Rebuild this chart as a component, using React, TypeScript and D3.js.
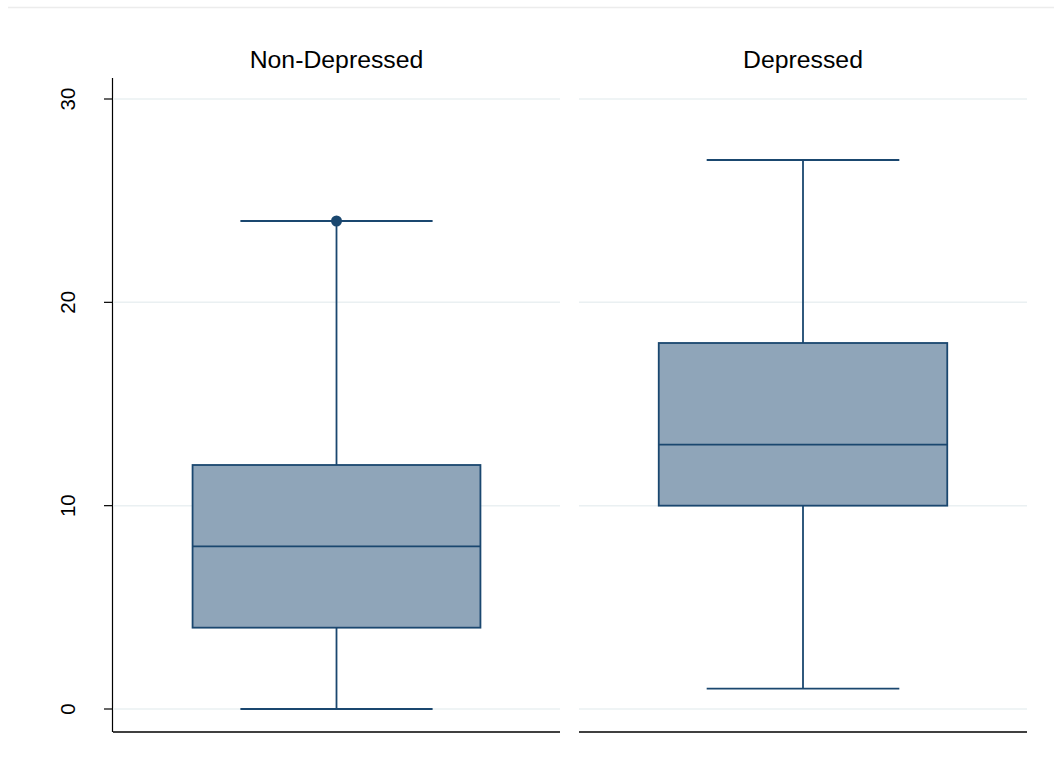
import React from "react";
import * as d3 from "d3";

const groups = ["Non-Depressed", "Depressed"];
const lowerWhisker = [0, 1];
const q1 = [4, 10];
const median = [8, 13];
const q3 = [12, 18];
const upperWhisker = [24, 27];
// outside values shown as dots, per group
const outliers = [[24], []];
const yTicks = [0, 10, 20, 30];

const W = 1054;
const H = 772;
const panels = [
  { x0: 113, x1: 560 },
  { x0: 579, x1: 1027 },
];
const top = 78;
const bottom = 732;

const NAVY = "#1a476f";
const FILL = "#8fa5b9";
const GRID = "#eaf0f2";
const FONT = "Arial, 'Liberation Sans', Helvetica, sans-serif";

export default function App() {
  const y = d3.scaleLinear().domain([0, 30]).range([709, 99]);

  return (
    <svg width={W} height={H} style={{ position: "absolute", left: 0, top: 0, background: "#fff" }}>
      <rect x={0} y={0} width={W} height={H} fill="#fff" />
      <line x1={8} x2={W} y1={7.5} y2={7.5} stroke="#ececec" strokeWidth={1.5} />

      {/* y axis */}
      <line x1={112.5} x2={112.5} y1={top} y2={bottom} stroke="#000" strokeWidth={1.2} />
      {yTicks.map((t) => (
        <g key={t}>
          <line x1={104} x2={112.5} y1={y(t)} y2={y(t)} stroke="#000" strokeWidth={1.2} />
          <text
            transform={`translate(75,${y(t)}) rotate(-90)`}
            textAnchor="middle"
            fontFamily={FONT}
            fontSize={20.5}
            fill="#000"
          >
            {t}
          </text>
        </g>
      ))}

      {panels.map((p, i) => {
        const x = d3.scaleBand().domain([groups[i]]).range([p.x0, p.x1]).paddingInner(0).paddingOuter(0);
        const cx = (x(groups[i]) as number) + x.bandwidth() / 2;
        const bw = x.bandwidth() * 0.644;
        const cw = x.bandwidth() * 0.43;
        return (
          <g key={groups[i]}>
            {yTicks.map((t) => (
              <line key={t} x1={p.x0} x2={p.x1} y1={y(t)} y2={y(t)} stroke={GRID} strokeWidth={1.5} />
            ))}
            <line x1={p.x0} x2={p.x1} y1={bottom} y2={bottom} stroke="#000" strokeWidth={1.5} />
            <text x={(p.x0 + p.x1) / 2} y={68} textAnchor="middle" fontFamily={FONT} fontSize={24.8} fill="#000">
              {groups[i]}
            </text>

            {/* whiskers */}
            <line x1={cx} x2={cx} y1={y(q3[i])} y2={y(upperWhisker[i])} stroke={NAVY} strokeWidth={1.8} />
            <line x1={cx} x2={cx} y1={y(q1[i])} y2={y(lowerWhisker[i])} stroke={NAVY} strokeWidth={1.8} />
            <line x1={cx - cw / 2} x2={cx + cw / 2} y1={y(upperWhisker[i])} y2={y(upperWhisker[i])} stroke={NAVY} strokeWidth={1.8} />
            <line x1={cx - cw / 2} x2={cx + cw / 2} y1={y(lowerWhisker[i])} y2={y(lowerWhisker[i])} stroke={NAVY} strokeWidth={1.8} />

            {/* box */}
            <rect
              x={cx - bw / 2}
              y={y(q3[i])}
              width={bw}
              height={y(q1[i]) - y(q3[i])}
              fill={FILL}
              stroke={NAVY}
              strokeWidth={1.8}
            />
            <line x1={cx - bw / 2} x2={cx + bw / 2} y1={y(median[i])} y2={y(median[i])} stroke={NAVY} strokeWidth={1.8} />

            {outliers[i].map((o, k) => (
              <circle key={k} cx={cx} cy={y(o)} r={5.5} fill={NAVY} />
            ))}
          </g>
        );
      })}
    </svg>
  );
}
